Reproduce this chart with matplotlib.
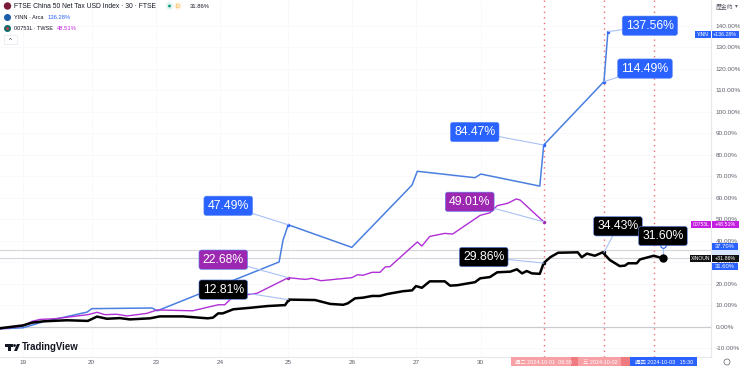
import matplotlib
matplotlib.use("Agg")
import matplotlib.pyplot as plt
from matplotlib.patches import Circle, Polygon, Rectangle

plt.rcParams['font.family'] = ['Liberation Sans', 'Noto Sans CJK TC', 'DejaVu Sans']

# x = trading sessions since the 19th, y = percent change
tick_pos = [0, 1.05, 2.03, 3.01, 4.05, 5.02, 6.0, 6.99]
tick_labels = ["19", "20", "23", "24", "25", "26", "27", "30"]
y_ticks = list(range(-10, 150, 10))

index_x = [-0.35, 0, 0.14, 0.31, 0.67, 0.99, 1.13, 1.28, 1.48, 1.63, 1.94, 2.09, 2.44, 2.82, 2.90, 2.98,
           3.05, 3.21, 3.47, 3.73, 3.97, 4.0, 4.06, 4.46, 4.69, 4.89, 4.96, 5.07, 5.19, 5.33, 5.45, 5.56,
           5.80, 5.94, 6.0, 6.09, 6.21, 6.44, 6.52, 6.63, 6.90, 6.98, 7.13, 7.24, 7.44, 7.54, 7.62, 7.69,
           7.77, 7.89, 7.95, 8.05, 8.17, 8.47, 8.53, 8.61, 8.73, 8.85, 8.96, 9.11, 9.19, 9.24, 9.37, 9.42,
           9.63, 9.77]
index_y = [-0.7, 0.6, 1.9, 2.5, 3.0, 2.7, 4.7, 3.7, 4.0, 3.4, 3.9, 4.8, 4.8, 3.9, 4.2, 6.2,
           6.2, 8.1, 8.8, 9.6, 10.0, 10.0, 12.6, 12.4, 10.6, 10.2, 10.9, 13.2, 13.5, 14.3, 14.3, 15.2,
           16.5, 16.9, 18.9, 18.1, 21.1, 21.1, 19.1, 19.3, 20.7, 22.5, 23.1, 25.3, 25.6, 26.7, 24.8, 25.9,
           24.8, 24.6, 29.6, 32.3, 34.4, 34.6, 32.3, 34.0, 33.0, 34.6, 31.0, 28.2, 28.4, 29.5, 29.5, 31.3,
           33.0, 31.8]

yinn_x = [-0.35, 0, 0.31, 0.67, 0.98, 1.05, 1.97, 2.05, 3.91, 3.97, 4.05, 5.02, 5.94, 6.02, 6.90, 6.99,
          7.89, 7.95, 8.87, 8.93]
yinn_y = [-1.0, -0.5, 2.3, 4.7, 6.8, 8.4, 8.7, 7.4, 30.1, 40.3, 47.4, 36.9, 65.9, 72.3, 69.3, 71.0,
          65.4, 84.5, 114.0, 137.2]

etf_x = [-0.35, 0, 0.14, 0.26, 0.49, 0.67, 0.99, 1.13, 1.25, 1.43, 1.59, 1.89, 2.05, 2.59, 2.98, 3.08,
         3.21, 3.57, 4.05, 4.31, 4.41, 4.55, 5.02, 5.11, 5.19, 5.33, 5.45, 5.53, 5.60, 6.02, 6.09, 6.21,
         6.44, 6.56, 6.98, 7.13, 7.24, 7.40, 7.53, 7.59, 7.95]
etf_y = [-1.0, 0.3, 2.5, 3.4, 3.7, 4.4, 5.6, 6.7, 5.6, 5.8, 5.0, 6.2, 7.8, 7.4, 10.2, 10.2,
         14.0, 15.5, 22.8, 22.0, 22.5, 21.4, 22.8, 24.2, 23.9, 25.3, 25.3, 27.8, 27.9, 39.4, 37.5, 42.0,
         43.4, 43.1, 51.8, 53.0, 56.3, 57.4, 59.4, 58.9, 48.8]

marker_x = [7.95, 8.87, 9.63]
price_lines = [35.7, 31.86]

# text, x, y of the marked point, box offset in pixels, box colour
labels = [("137.56%", 8.93, 137.2, 42, 6, "#2962ff"),
          ("114.49%", 8.87, 114.0, 41, 13, "#2962ff"),
          ("84.47%", 7.95, 84.5, -69, 13, "#2962ff"),
          ("47.49%", 4.05, 47.4, -60, 19, "#2962ff"),
          ("49.01%", 7.95, 48.8, -74, 20, "#9c27b0"),
          ("22.68%", 4.05, 22.8, -65, 18, "#9c27b0"),
          ("12.81%", 4.05, 12.6, -65, 10, "#000000"),
          ("29.86%", 7.95, 29.6, -60, 6, "#000000"),
          ("34.43%", 8.87, 34.6, 14, 26, "#000000")]

fig = plt.figure(figsize=(7.4, 3.66), dpi=100)
ax = fig.add_axes([0, 9 / 366, 711 / 740, 357 / 366])
ax.set_xlim(-0.351, 10.504)
ax.set_ylim(-14.09, 151.95)

for s in ["top", "left"]:
    ax.spines[s].set_visible(False)
ax.spines["right"].set_color("#e6e8ee")
ax.spines["bottom"].set_color("#e6e8ee")
ax.spines["right"].set_linewidth(0.8)
ax.spines["bottom"].set_linewidth(0.8)

ax.yaxis.tick_right()
ax.set_yticks(y_ticks)
ax.set_yticklabels([f"{v}.00%" for v in y_ticks], fontsize=4.6, color="#5d606b")
ax.set_xticks(tick_pos)
ax.set_xticklabels(tick_labels, fontsize=4.6, color="#5d606b")
ax.tick_params(length=0)
ax.tick_params(axis="y", pad=3.5)
ax.tick_params(axis="x", pad=1.8)
ax.grid(color="#f8f9fb", linewidth=0.6)
ax.set_axisbelow(True)

ax.axhline(0, color="#c9cbd1", linewidth=0.9, zorder=1)
for v in price_lines:
    ax.axhline(v, color="#d5d6dc", linewidth=0.8, zorder=1)
for m in marker_x:
    ax.axvline(m, color="#f06a74", linewidth=1.0, linestyle=(0, (1, 3)), zorder=1)

ax.plot(yinn_x, yinn_y, color="#4a7fe0", linewidth=1.1, zorder=3)
ax.plot(etf_x, etf_y, color="#b02fd6", linewidth=1.0, zorder=3)
ax.plot(index_x, index_y, color="#000000", linewidth=1.8, zorder=4)

for text, x, y, dx, dy, col in labels:
    ax.plot([x], [y], "o", color=col, markersize=1.5, zorder=5)
    ax.annotate(text, xy=(x, y), xytext=(dx, dy), textcoords="offset pixels",
                color="white", fontsize=8.8, ha="center", va="center", zorder=6,
                bbox=dict(boxstyle="round,pad=0.3,rounding_size=0.2", fc=col, ec="#5b87f0", lw=0.4),
                arrowprops=dict(arrowstyle="-", color="#a9c0f5", lw=0.8, shrinkA=0, shrinkB=0))

# last marker: hollow dot above the index dot
ax.plot([9.77], [38.0], "o", mfc="white", mec="#2962ff", mew=0.8, markersize=4, zorder=5)
ax.plot([9.77, 9.77], [38.0, 31.8], color="#a9c0f5", linewidth=0.8, zorder=3)
ax.plot([9.77], [31.8], "o", color="black", markersize=5, zorder=5)
ax.annotate("31.60%", xy=(9.77, 38.0), xytext=(0, 9), textcoords="offset pixels",
            color="white", fontsize=8.8, ha="center", va="center", zorder=7,
            bbox=dict(boxstyle="round,pad=0.3,rounding_size=0.2", fc="black", ec="#5b87f0", lw=0.4))

def px_text(x, y, s, **kw):
    return fig.text(x / 740, 1 - y / 366, s, **kw)

def px_rect(x0, y0, x1, y1, col, **kw):
    fig.add_artist(Rectangle((x0 / 740, 1 - y1 / 366), (x1 - x0) / 740, (y1 - y0) / 366,
                             transform=fig.transFigure, fc=col, ec="none", **kw))

def px_dot(x, y, r, col):
    fig.add_artist(Circle((x, 366 - y), r, transform=None, fc=col, ec="none"))

# price scale tags
px_rect(712, 250, 740, 258, "#dbe6fd")
tags = [(34.5, 695, "#2962ff", "YINN", "+136.28%"),
        (224.8, 691, "#c41ee0", "00753L", "+48.51%"),
        (258.5, 690, "#111111", "XINOUN", "+31.86%")]
for y, x0, col, name, val in tags:
    px_rect(x0, y - 3.5, 739, y + 3.5, col)
    px_rect(711, y - 3.5, 711.6, y + 3.5, "white")
    px_text((x0 + 711) / 2, y, name, color="white", fontsize=3.6, ha="center", va="center")
    px_text(725, y, val, color="white", fontsize=3.8, ha="center", va="center")
for y, val in [(246.5, "37.70%"), (266.5, "31.60%")]:
    px_rect(712, y - 3.5, 738, y + 3.5, "#2962ff")
    px_text(725, y, val, color="white", fontsize=4.2, ha="center", va="center")

# date tags under the markers
px_rect(511, 357, 575, 366, "#f7a1a6")
px_rect(571, 357, 578, 366, "#ef7a80")
px_rect(578, 357, 621, 366, "#f7a1a6")
px_rect(621, 357, 630, 366, "#ef7a80")
px_rect(630, 357, 697, 366, "#2962ff")
px_text(543, 362, "週二 2024-10-01  09:30", color="white", fontsize=3.9, ha="center", va="center")
px_text(600, 362, "三 2024-10-02", color="white", fontsize=3.9, ha="center", va="center")
px_text(664, 362, "週四 2024-10-03   15:30", color="white", fontsize=3.9, ha="center", va="center")

# header
px_dot(7.5, 6, 3.7, "#7a1c3a")
px_text(14, 6, "FTSE China 50 Net Tax USD Index · 30 · FTSE", color="#131722", fontsize=4.9, va="center")
px_dot(169.5, 6, 3.7, "#e3f5ef")
px_dot(169.5, 6, 1.4, "#089981")
px_dot(178, 6, 3.7, "#fdf0dc")
px_text(178, 6, "D", color="#f5a623", fontsize=3.8, ha="center", va="center")
px_text(190, 6, "31.86%", color="#131722", fontsize=4.2, va="center")
px_dot(7.5, 17.5, 3.5, "#1c5fa8")
px_text(14, 17.5, "YINN · Arca", color="#131722", fontsize=4, va="center")
px_text(48, 17.5, "136.28%", color="#2962ff", fontsize=4.2, va="center")
px_dot(7.5, 28.5, 3.5, "#146b6b")
px_dot(7.5, 28.5, 1.3, "#e03a3a")
px_text(14, 28.5, "00753L · TWSE", color="#131722", fontsize=4, va="center")
px_text(57, 28.5, "48.51%", color="#c41ee0", fontsize=4.2, va="center")
px_text(716, 6, "歷金約", color="#5d606b", fontsize=4.2, va="center")
px_text(736, 6, "▾", color="#5d606b", fontsize=4, ha="center", va="center")

# collapse button
fig.add_artist(Rectangle((4 / 740, 1 - 44 / 366), 13 / 740, 9 / 366, transform=fig.transFigure,
                         fc="white", ec="#e6e8ee", lw=0.5))
px_text(10.5, 40.5, "^", color="#131722", fontsize=4.5, ha="center", va="center")

# TradingView logo
px_rect(5, 344, 13, 347, "#131722")
px_rect(8, 344, 11, 351, "#131722")
fig.add_artist(Polygon([(14 / 740, 1 - 351 / 366), (17 / 740, 1 - 344 / 366), (20 / 740, 1 - 344 / 366),
                        (17 / 740, 1 - 351 / 366)], transform=fig.transFigure, fc="#131722", ec="none"))
px_dot(14.5, 345.5, 1.4, "#131722")
px_text(22, 347.5, "TradingView", color="#131722", fontsize=6.9, fontweight="bold", va="center")
fig.add_artist(Circle((727, 366 - 362), 3, transform=None, fc="none", ec="#5d606b", lw=0.5))

fig.savefig("out.png", dpi=100)
